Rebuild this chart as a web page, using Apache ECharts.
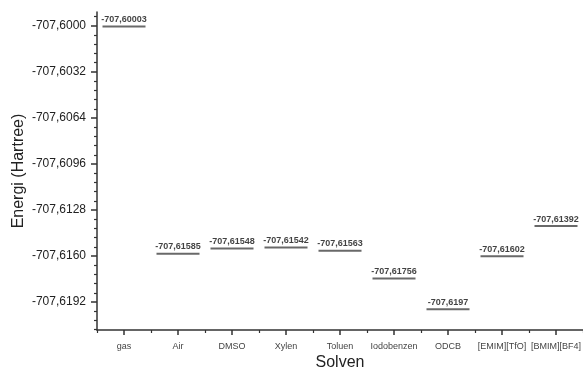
<!DOCTYPE html>
<html>
<head>
<meta charset="utf-8">
<script src="https://cdn.jsdelivr.net/npm/echarts@6/dist/echarts.min.js"></script>
<style>html,body{margin:0;padding:0;background:#fff;}#c{width:583px;height:374px;}</style>
</head>
<body>
<div id="c"></div>
<script>
const categories = ['gas', 'Air', 'DMSO', 'Xylen', 'Toluen', 'Iodobenzen', 'ODCB', '[EMIM][TfO]', '[BMIM][BF4]'];
const energies = [-707.60003, -707.61585, -707.61548, -707.61542, -707.61563, -707.61756, -707.6197, -707.61602, -707.61392];
const yTicks = [-707.6000, -707.6032, -707.6064, -707.6096, -707.6128, -707.6160, -707.6192];

const yMin = -707.62115, yMax = -707.59903;
const minorStep = 0.00064;
const minors = [];
for (let k = -30; k <= 40; k++) {
  const v = -707.6000 - k * minorStep;
  if (v >= yMin && v <= yMax && k % 5 !== 0) minors.push(v);
}
const fmt = v => String(v).replace('.', ',');
const FONT = 'Liberation Sans, Arial, sans-serif';

const chart = echarts.init(document.getElementById('c'));
chart.setOption({
  animation: false,
  grid: {left: 97, right: 0, top: 12, bottom: 44, containLabel: false, outerBoundsMode: 'none'},
  xAxis: [{
    type: 'category', data: categories, boundaryGap: true,
    name: 'Solven', nameLocation: 'middle', nameGap: 25, nameMoveOverlap: false,
    nameTextStyle: {fontFamily: FONT, fontSize: 16, color: '#222'},
    axisLine: {lineStyle: {color: '#333', width: 1.5}},
    axisTick: {show: true, alignWithLabel: true, interval: 0, length: 5, lineStyle: {color: '#333', width: 1.5}},
    axisLabel: {interval: 0, fontFamily: FONT, fontSize: 9, color: '#444', margin: 12}
  }, {
    type: 'category', data: categories, boundaryGap: true, position: 'bottom',
    axisLine: {show: false},
    axisTick: {show: true, interval: 0, length: 3, lineStyle: {color: '#333', width: 1.2}},
    axisLabel: {show: false}
  }],
  yAxis: [{
    type: 'value', min: yMin, max: yMax, position: 'left',
    name: 'Energi (Hartree)', nameLocation: 'middle', nameGap: 70, nameMoveOverlap: false,
    nameTextStyle: {fontFamily: FONT, fontSize: 16, color: '#222'},
    splitLine: {show: false},
    axisLine: {show: true, lineStyle: {color: '#333', width: 1.5}},
    axisTick: {show: true, customValues: yTicks, length: 6, lineStyle: {color: '#333', width: 1.5}},
    axisLabel: {customValues: yTicks, formatter: v => v.toFixed(4).replace('.', ','), fontFamily: FONT, fontSize: 12, color: '#222', margin: 11}
  }, {
    type: 'value', min: yMin, max: yMax, position: 'left',
    splitLine: {show: false},
    axisLine: {show: false},
    axisTick: {show: true, customValues: minors, length: 3, lineStyle: {color: '#333', width: 1.2}},
    axisLabel: {show: false}
  }],
  series: [{
    type: 'scatter',
    xAxisIndex: 0, yAxisIndex: 0,
    data: energies,
    symbol: 'rect',
    symbolSize: [43, 2],
    itemStyle: {color: '#444'},
    label: {
      show: true, position: 'top', distance: 1.5,
      formatter: p => fmt(p.value),
      fontFamily: FONT, fontSize: 9, fontWeight: 'bold', color: '#111'
    }
  }]
});
</script>
</body>
</html>
